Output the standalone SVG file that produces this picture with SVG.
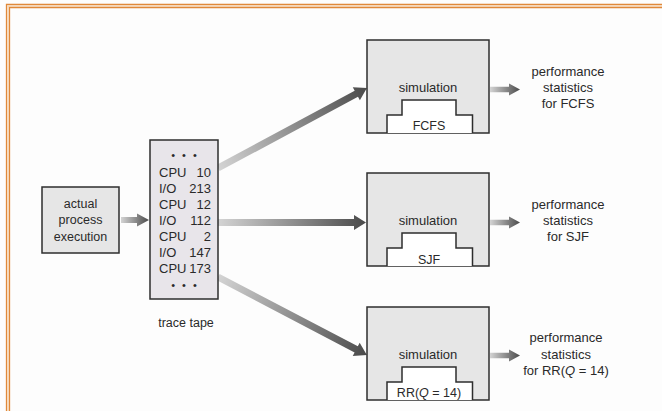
<svg xmlns="http://www.w3.org/2000/svg" width="662" height="411" viewBox="0 0 662 411">
<defs>
<style>
text{font-family:"Liberation Sans",Arial,sans-serif;fill:#2a2a2a}
.t12{font-size:12.5px;text-anchor:middle}
.t13{font-size:13px;text-anchor:middle}
.tape{font-size:13px}
.dots{font-size:11px;text-anchor:middle;letter-spacing:2px}
.box{fill:#e6e6e6;stroke:#2e2e2e;stroke-width:1.5}
.step{fill:#ffffff;stroke:#2e2e2e;stroke-width:1.5}
.arr{fill:url(#g)}
</style>
<linearGradient id="g" x1="0" y1="0" x2="1" y2="0">
<stop offset="0" stop-color="#d4d4d4"/>
<stop offset="1" stop-color="#4a4a4a"/>
</linearGradient>
</defs>
<rect width="662" height="411" fill="#fdfdfd"/>
<g id="frame" fill="none">
<path d="M6.5,420 V4.5 H670" stroke="#e0893a" stroke-width="1.3"/>
<path d="M8,420 V6 H670" stroke="#f6d2ad" stroke-width="1.2"/>
<path d="M9.5,420 V7.5 H670" stroke="#e0893a" stroke-width="1.3"/>
</g>
<g id="connectors">
<path class="arr" transform="translate(121,220)" d="M0,-3 H16 V-6.5 L28,0 L16,6.5 V3 H0 Z"/>
<path class="arr" transform="translate(218,168) rotate(-28.23)" d="M0,-3.5 H157 V-7.5 L169,0 L157,7.5 V3.5 H0 Z"/>
<path class="arr" transform="translate(218,222.5)" d="M0,-3.5 H136 V-7.5 L148,0 L136,7.5 V3.5 H0 Z"/>
<path class="arr" transform="translate(218,277) rotate(27.63)" d="M0,-3.5 H156 V-7.5 L168,0 L156,7.5 V3.5 H0 Z"/>
<path class="arr" transform="translate(490,89.5)" d="M0,-2.8 H19 V-6 L30,0 L19,6 V2.8 H0 Z"/>
<path class="arr" transform="translate(490,222.5)" d="M0,-2.8 H19 V-6 L30,0 L19,6 V2.8 H0 Z"/>
<path class="arr" transform="translate(490,355.5)" d="M0,-2.8 H19 V-6 L30,0 L19,6 V2.8 H0 Z"/>
</g>
<g id="process">
<rect class="box" x="42" y="187" width="77" height="66"/>
<text class="t12" x="80.5" y="208">actual</text>
<text class="t12" x="80.5" y="224">process</text>
<text class="t12" x="80.5" y="240.5">execution</text>
</g>
<g id="tape">
<rect x="150" y="140" width="68" height="159" fill="#e8e5ea" stroke="#2e2e2e" stroke-width="1.5"/>
<text class="dots" x="185" y="159">• • •</text>
<text class="tape" x="159" y="177">CPU</text><text class="tape" x="211" y="177" text-anchor="end">10</text>
<text class="tape" x="159" y="193">I/O</text><text class="tape" x="211" y="193" text-anchor="end">213</text>
<text class="tape" x="159" y="209">CPU</text><text class="tape" x="211" y="209" text-anchor="end">12</text>
<text class="tape" x="159" y="225">I/O</text><text class="tape" x="211" y="225" text-anchor="end">112</text>
<text class="tape" x="159" y="241">CPU</text><text class="tape" x="211" y="241" text-anchor="end">2</text>
<text class="tape" x="159" y="257">I/O</text><text class="tape" x="211" y="257" text-anchor="end">147</text>
<text class="tape" x="159" y="273">CPU</text><text class="tape" x="211" y="273" text-anchor="end">173</text>
<text class="dots" x="185" y="289">• • •</text>
<text class="t12" x="186" y="327">trace tape</text>
</g>
<g id="sim-fcfs">
<rect class="box" x="367" y="40" width="122" height="93"/>
<text class="t13" x="428" y="92">simulation</text>
<path class="step" d="M387,133 V115 H402 V100 H456 V115 H472.5 V133"/>
<text class="t12" x="429" y="130">FCFS</text>
</g>
<g id="sim-sjf">
<rect class="box" x="367" y="173" width="122" height="93"/>
<text class="t13" x="428" y="225">simulation</text>
<path class="step" d="M387,266 V248 H402 V233 H456 V248 H472.5 V266"/>
<text class="t12" x="429" y="263.5">SJF</text>
</g>
<g id="sim-rr">
<rect class="box" x="367" y="307" width="122" height="93"/>
<text class="t13" x="428" y="359">simulation</text>
<path class="step" d="M387,400 V382 H402 V367 H456 V382 H472.5 V400"/>
<text class="t12" x="429" y="397">RR(<tspan font-style="italic">Q</tspan> = 14)</text>
</g>
<g id="stats-fcfs">
<text class="t13" x="568" y="76">performance</text>
<text class="t13" x="568" y="91.5">statistics</text>
<text class="t13" x="568" y="107.5">for FCFS</text>
</g>
<g id="stats-sjf">
<text class="t13" x="568" y="208.5">performance</text>
<text class="t13" x="568" y="224.5">statistics</text>
<text class="t13" x="568" y="241">for SJF</text>
</g>
<g id="stats-rr">
<text class="t13" x="566" y="342">performance</text>
<text class="t13" x="566" y="358.5">statistics</text>
<text class="t13" x="566" y="374.5">for RR(<tspan font-style="italic">Q</tspan> = 14)</text>
</g>
</svg>
